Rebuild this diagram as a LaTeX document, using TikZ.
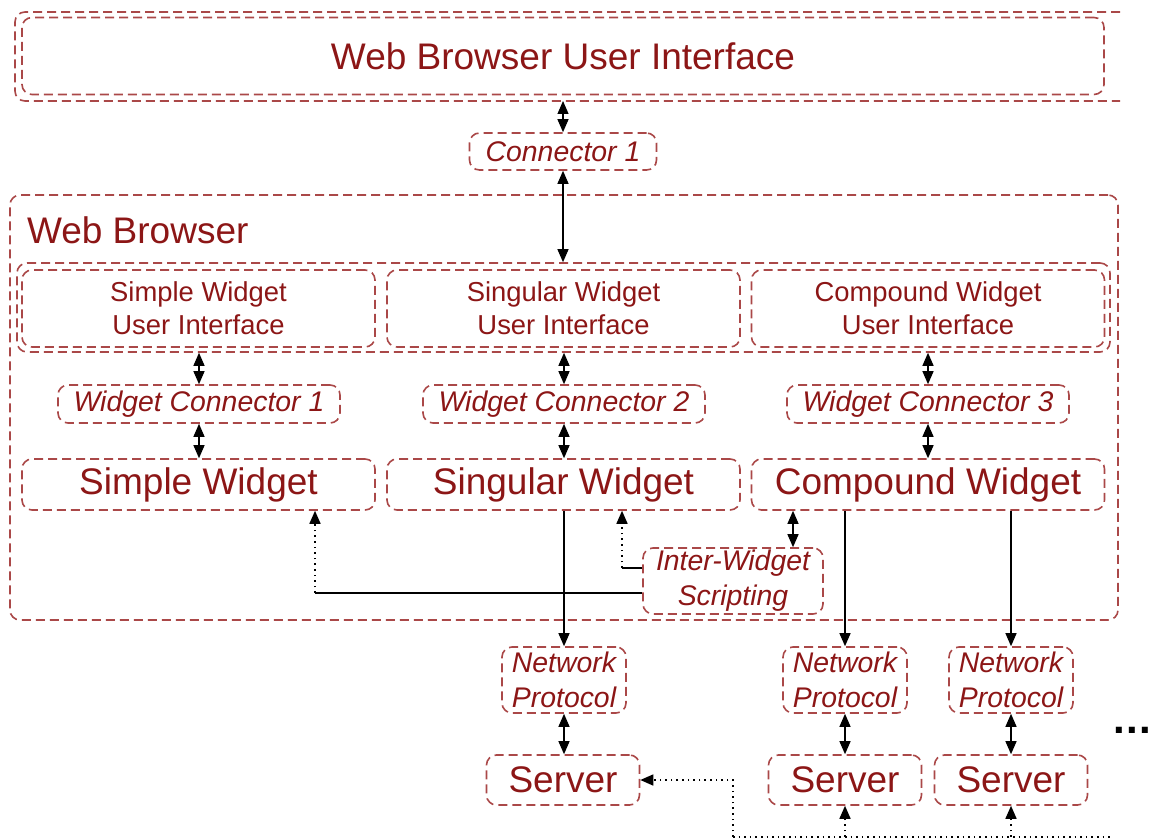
\documentclass[tikz,border=0pt]{standalone}
\usepackage{fontspec}
\setmainfont{Liberation Sans}
\usetikzlibrary{arrows.meta}
\definecolor{boxred}{RGB}{170,72,72}
\definecolor{textred}{RGB}{140,22,22}

\begin{document}
\begin{tikzpicture}[x=0.5pt,y=-0.5pt,
	frame/.style={draw=boxred, line width=0.8pt, dash pattern=on 4.5pt off 2.5pt, rounded corners=5pt},
	box/.style={frame, text=textred, inner sep=0pt, align=center},
	big/.style={font=\fontsize{18.5}{22}\selectfont},
	ui/.style={font=\fontsize{13.7}{16.5}\selectfont},
	conn/.style={font=\fontsize{14.2}{17.5}\selectfont\itshape},
	dbl/.style={{Triangle[length=6.5pt,width=5.5pt]}-{Triangle[length=6.5pt,width=5.5pt]}, line width=0.6pt},
	sarrow/.style={-{Triangle[length=6.5pt,width=5.5pt]}, line width=0.6pt},
	darrow/.style={-{Triangle[length=6.5pt,width=5.5pt]}, line width=0.8pt, dotted}]
	\useasboundingbox (0,0) rectangle (1149,839);
	% top band
	\node[box, big, minimum width=541pt, minimum height=38.5pt] (bui) at (563,56) {Web Browser User Interface};
	\draw[frame] (1120,12) -| (15,101) -- (1120,101);
	\coordinate (buibot) at (563,101);
	\node[box, conn, minimum width=93.5pt, minimum height=18.5pt] (con1) at (563,151.5) {Connector 1};
	% web browser
	\node[frame, minimum width=554pt, minimum height=212.5pt, inner sep=0pt] (web) at (564,407.5) {};
	\node[anchor=base west, text=textred, big] (webl) at (20,244) {Web Browser};
	\node[frame, minimum width=546.5pt, minimum height=44.5pt, inner sep=0pt] (uiband) at (563.5,307.5) {};
	\node[box, ui, minimum width=176.5pt, minimum height=38.5pt] (ui1) at (198.5,308.5) {Simple Widget\\User Interface};
	\node[box, ui, minimum width=176.5pt, minimum height=38.5pt] (ui2) at (563.5,308.5) {Singular Widget\\User Interface};
	\node[box, ui, minimum width=176.5pt, minimum height=38.5pt] (ui3) at (928,308.5) {Compound Widget\\User Interface};
	\node[box, conn, minimum width=141pt, minimum height=19pt] (wc1) at (199,404) {Widget Connector 1};
	\node[box, conn, minimum width=141pt, minimum height=19pt] (wc2) at (564,404) {Widget Connector 2};
	\node[box, conn, minimum width=141pt, minimum height=19pt] (wc3) at (928,404) {Widget Connector 3};
	\node[box, big, minimum width=176.5pt, minimum height=25.5pt] (wg1) at (198.5,484.5) {Simple Widget};
	\node[box, big, minimum width=176.5pt, minimum height=25.5pt] (wg2) at (563.5,484.5) {Singular Widget};
	\node[box, big, minimum width=176.5pt, minimum height=25.5pt] (wg3) at (928,484.5) {Compound Widget};
	\node[box, conn, minimum width=90pt, minimum height=33pt] (iws) at (733,581) {Inter-Widget\\Scripting};
	% network side
	\node[box, conn, minimum width=62pt, minimum height=33pt] (np1) at (564,680) {Network\\Protocol};
	\node[box, conn, minimum width=62pt, minimum height=33pt] (np2) at (845,680) {Network\\Protocol};
	\node[box, conn, minimum width=62pt, minimum height=33pt] (np3) at (1011,680) {Network\\Protocol};
	\node[box, big, minimum width=76.5pt, minimum height=25pt] (sv1) at (563,780) {Server};
	\node[box, big, minimum width=76.5pt, minimum height=25pt] (sv2) at (845,780) {Server};
	\node[box, big, minimum width=76.5pt, minimum height=25pt] (sv3) at (1011,780) {Server};
	\node[anchor=base west, inner sep=0pt, font=\fontsize{21}{21}\selectfont\bfseries] (more) at (1113,733) {.\kern0.6pt.\kern0.6pt.};
	% connectors
	\draw[dbl] (buibot) -- (con1);
	\draw[dbl] (con1) -- (con1 |- uiband.north);
	\foreach \w in {1,2,3} {
		\draw[dbl] (wc\w |- uiband.south) -- (wc\w);
		\draw[dbl] (wc\w) -- (wc\w |- wg\w.north);
		\draw[dbl] (np\w) -- (np\w |- sv\w.north);
	}
	\draw[dbl] ([xshift=30pt]iws.north) -- ([xshift=30pt]iws.north |- wg3.south);
	\coordinate (k1) at (622,568);
	\coordinate (k2) at (315,593);
	\draw[line width=0.6pt] (iws.west |- k1) -- (k1);
	\draw[darrow] (k1) -- (k1 |- wg2.south);
	\draw[line width=0.6pt] (iws.west |- k2) -- (k2);
	\draw[darrow] (k2) -- (k2 |- wg1.south);
	\draw[sarrow] (np1 |- wg2.south) -- (np1);
	\draw[sarrow] (np2 |- wg3.south) -- (np2);
	\draw[sarrow] (np3 |- wg3.south) -- (np3);
	\coordinate (b0) at (733,837);
	\coordinate (b1) at (1110,837);
	\draw[dotted, line width=0.8pt] (b0) -- (b1);
	\draw[darrow] (b0) |- (sv1);
	\draw[darrow] (sv2 |- b0) -- (sv2);
	\draw[darrow] (sv3 |- b0) -- (sv3);
\end{tikzpicture}
\end{document}
